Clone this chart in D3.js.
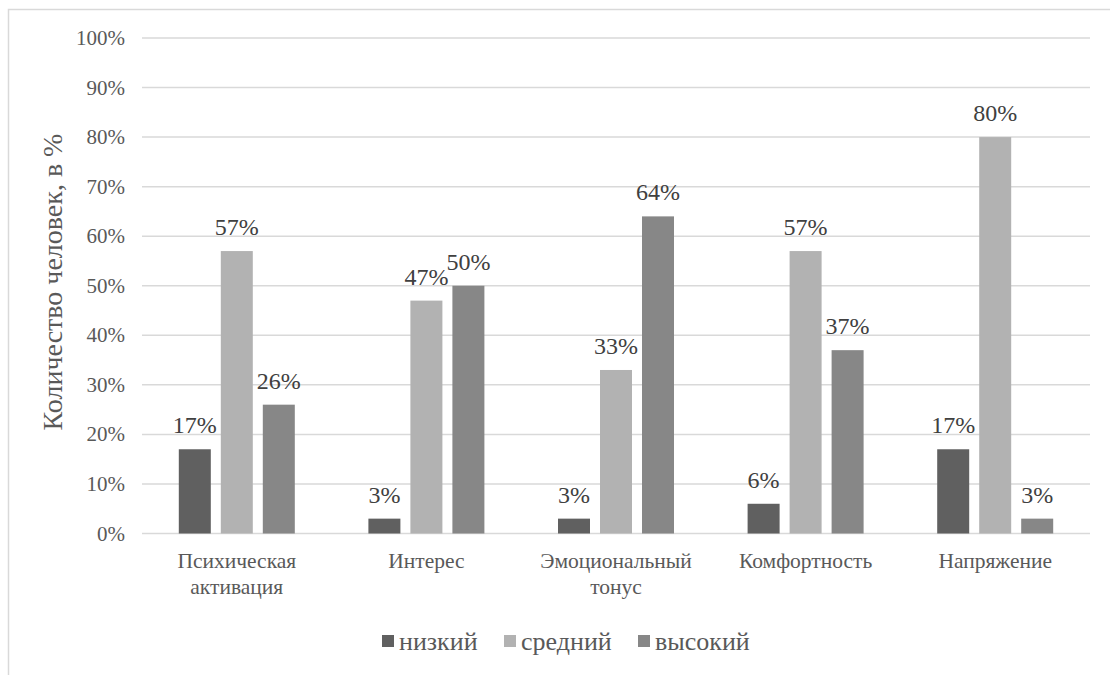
<!DOCTYPE html>
<html>
<head>
<meta charset="utf-8">
<script src="https://cdn.jsdelivr.net/npm/d3@7"></script>
<style>
  html, body { margin: 0; padding: 0; background: #fff; }
  svg { display: block; }
</style>
</head>
<body>
<svg id="chart" width="1110" height="675"></svg>
<script>
// Categories and series values (percent)
const categories = [
  ["Психическая", "активация"],
  ["Интерес"],
  ["Эмоциональный", "тонус"],
  ["Комфортность"],
  ["Напряжение"]
];
const seriesNames = ["низкий", "средний", "высокий"];
const seriesColors = ["#606060", "#b2b2b2", "#878787"];
const lowValues  = [17, 3, 3, 6, 17];
const midValues  = [57, 47, 33, 57, 80];
const highValues = [26, 50, 64, 37, 3];
const yTicks = [0, 10, 20, 30, 40, 50, 60, 70, 80, 90, 100];
const yTitle = "Количество человек, в %";

const seriesValues = [lowValues, midValues, highValues];
const svg = d3.select("#chart");

// Shared text styling: serif face, grey ink
function styleText(sel, size, color) {
  return sel.style("font-family", "Liberation Serif")
    .style("font-size", size + "px")
    .style("fill", color);
}

// Chart frame
svg.append("rect")
  .attr("x", 8.5).attr("y", 9.5)
  .attr("width", 1130).attr("height", 700)
  .attr("fill", "none").attr("stroke", "#d9d9d9").attr("stroke-width", 1.5);

const plot = { left: 142, right: 1090, top: 38, bottom: 533.5 };

const x0 = d3.scaleBand()
  .domain(d3.range(categories.length))
  .range([plot.left, plot.right]);

const barStep = 42, barW = 32;

const y = d3.scaleLinear().domain([0, 100]).range([plot.bottom, plot.top]);

// Gridlines
svg.append("g").selectAll("line")
  .data(yTicks)
  .join("line")
  .attr("x1", plot.left).attr("x2", plot.right)
  .attr("y1", d => y(d)).attr("y2", d => y(d))
  .attr("stroke", "#d9d9d9").attr("stroke-width", 1.5);

// Y tick labels, placed with the linear scale
svg.append("g").selectAll("text")
  .data(yTicks)
  .join("text")
  .attr("x", 125)
  .attr("y", d => y(d) + 7)
  .attr("text-anchor", "end")
  .text(d => d + "%")
  .call(styleText, 21, "#595959");

// Y axis title
svg.append("text")
  .attr("transform", "translate(62,282) rotate(-90)")
  .attr("text-anchor", "middle")
  .text(yTitle)
  .call(styleText, 28, "#595959");

// Bars and value labels
seriesValues.forEach((vals, s) => {
  const g = svg.append("g");
  const cx = i => x0(i) + x0.bandwidth() / 2 + (s - 1) * barStep;
  g.selectAll("rect")
    .data(vals)
    .join("rect")
    .attr("x", (d, i) => cx(i) - barW / 2)
    .attr("width", barW)
    .attr("y", d => y(d))
    .attr("height", d => y(0) - y(d))
    .attr("fill", seriesColors[s]);
  g.selectAll("text")
    .data(vals)
    .join("text")
    .attr("x", (d, i) => cx(i))
    .attr("y", d => y(d) - 16)
    .attr("text-anchor", "middle")
    .text(d => d + "%")
    .call(styleText, 24, "#404040");
});

// Category labels
categories.forEach((lines, i) => {
  lines.forEach((ln, k) => {
    svg.append("text")
      .attr("x", x0(i) + x0.bandwidth() / 2)
      .attr("y", 568 + k * 26)
      .attr("text-anchor", "middle")
      .text(ln)
      .call(styleText, 21.5, "#595959");
  });
});

// Legend
const legendX = [382, 504, 638];
seriesNames.forEach((name, s) => {
  svg.append("rect")
    .attr("x", legendX[s]).attr("y", 635)
    .attr("width", 12).attr("height", 12)
    .attr("fill", seriesColors[s]);
  svg.append("text")
    .attr("x", legendX[s] + 17).attr("y", 650)
    .text(name)
    .call(styleText, 26, "#595959");
});
</script>
</body>
</html>
